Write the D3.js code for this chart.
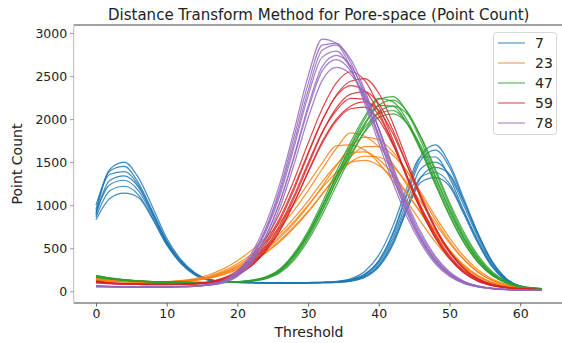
<!DOCTYPE html>
<html>
<head>
<meta charset="utf-8">
<script src="https://d3js.org/d3.v7.min.js"></script>
<style>
  body { margin: 0; background: #fff; }
  text { font-family: "DejaVu Sans", sans-serif; fill: #222; }
</style>
</head>
<body>
<div id="chart"></div>
<script>
// thresholds shared by every line
var thresholds = [0,2,4,6,8,10,12,14,16,18,20,22,24,26,28,30,32,34,36,38,40,42,44,46,48,50,52,54,56,58,60,63];

var groupLabels = ["7", "23", "47", "59", "78"];
var groupColors = ["#1f77b4", "#ff7f0e", "#2ca02c", "#d62728", "#9467bd"];

var xTicks = [0, 10, 20, 30, 40, 50, 60];
var yTicks = [0, 500, 1000, 1500, 2000, 2500, 3000];

var lines7 = [
  [950,1420,1500,1320,980,620,370,215,140,115,108,105,102,100,100,102,105,112,135,200,360,680,1150,1580,1700,1480,1080,680,350,150,60,20],
  [900,1400,1450,1260,930,590,355,208,138,112,106,103,100,100,98,100,104,110,132,195,350,660,1120,1530,1640,1440,1050,660,340,146,58,20],
  [1000,1360,1390,1230,910,580,348,203,135,110,105,102,100,98,98,100,105,115,145,230,420,760,1210,1560,1560,1320,940,590,300,130,52,18],
  [880,1290,1340,1210,900,570,342,199,132,110,104,100,98,97,97,99,102,108,128,185,330,620,1050,1430,1500,1350,1000,630,320,138,55,19],
  [920,1240,1290,1170,880,560,336,195,130,108,103,100,98,96,96,98,100,104,118,160,280,540,950,1330,1440,1360,1040,670,350,150,58,20],
  [860,1170,1220,1120,850,545,328,191,128,107,102,99,97,96,95,97,100,105,122,172,305,580,990,1330,1380,1250,920,580,295,126,50,17],
  [830,1080,1140,1090,840,540,325,189,127,106,101,98,96,95,94,96,99,104,120,168,295,560,950,1270,1320,1220,900,560,285,122,49,17]
];

var lines23 = [
  [145,128,117,111,109,111,120,140,175,235,320,430,570,740,940,1170,1420,1660,1840,1800,1680,1480,1230,960,700,480,300,175,100,56,34,21],
  [135,122,113,108,106,108,115,132,160,210,280,370,480,620,790,990,1220,1460,1680,1790,1760,1620,1390,1110,830,580,375,225,128,72,42,24],
  [150,132,120,113,110,113,124,148,192,260,355,475,620,800,1010,1250,1490,1690,1700,1640,1490,1280,1040,800,570,380,236,138,78,45,29,19],
  [128,118,110,105,103,105,111,125,150,192,255,340,445,575,735,920,1130,1350,1560,1680,1680,1580,1390,1140,870,620,410,250,145,82,47,26],
  [140,125,115,109,107,110,118,136,168,222,300,400,520,670,850,1050,1270,1470,1610,1620,1530,1360,1140,900,660,455,290,172,98,56,34,21],
  [132,120,111,106,104,106,113,128,155,200,265,350,455,590,750,930,1130,1330,1500,1570,1560,1450,1260,1030,790,560,370,225,130,73,43,24],
  [138,124,114,108,106,108,116,133,162,212,285,380,495,640,810,1000,1200,1380,1500,1520,1460,1320,1130,910,690,480,310,185,105,60,36,22]
];

var lines47 = [
  [175,150,132,120,112,108,105,103,102,104,110,125,158,240,410,660,980,1340,1690,2000,2230,2260,2080,1740,1340,950,620,370,200,105,55,30],
  [185,155,135,122,114,110,106,104,103,105,112,130,168,260,440,700,1030,1390,1730,2030,2240,2200,1990,1640,1250,880,570,340,185,98,52,28],
  [165,145,128,118,110,106,103,101,100,102,107,120,150,225,380,620,930,1280,1620,1930,2160,2220,2090,1780,1390,1000,660,400,215,112,58,31],
  [170,148,130,119,111,107,104,102,101,103,109,124,160,248,420,670,990,1340,1670,1950,2160,2150,1950,1620,1240,880,570,340,185,98,52,28],
  [160,140,126,116,109,105,102,100,99,101,106,118,145,215,360,590,890,1230,1560,1860,2080,2150,2060,1790,1420,1030,690,420,230,120,62,32],
  [178,152,133,121,113,108,105,103,102,104,110,126,162,250,425,675,990,1320,1640,1900,2070,2100,1950,1650,1280,920,600,360,195,103,54,29],
  [168,146,129,118,110,106,103,101,100,102,108,122,155,235,400,640,950,1280,1590,1850,2020,2060,1950,1680,1320,960,630,380,205,108,56,30]
];

var lines59 = [
  [115,98,90,86,84,84,86,92,110,155,240,390,610,910,1290,1720,2120,2420,2550,2450,2150,1760,1330,940,620,380,215,118,66,40,27,18],
  [105,92,86,83,81,81,83,88,102,140,210,340,540,820,1180,1590,1980,2280,2440,2470,2300,1950,1520,1100,740,460,265,145,80,48,31,20],
  [120,100,92,88,85,85,87,93,110,150,225,360,570,850,1210,1610,1990,2270,2390,2330,2080,1720,1310,930,620,385,220,120,67,41,27,18],
  [100,90,84,80,78,78,80,85,98,132,195,310,490,740,1080,1460,1840,2130,2290,2320,2180,1870,1470,1070,720,450,260,142,78,47,30,19],
  [112,96,88,84,82,82,84,89,104,140,205,325,510,770,1110,1490,1850,2100,2240,2230,2040,1720,1330,960,640,400,228,125,70,42,28,18],
  [108,94,87,83,80,80,82,87,100,132,192,300,470,710,1030,1390,1740,2000,2150,2200,2100,1830,1460,1080,740,470,275,150,82,49,31,20],
  [98,88,82,79,77,77,79,84,97,128,188,295,465,700,1020,1380,1720,1980,2120,2140,1990,1700,1340,980,660,415,240,132,73,44,29,19]
];

var lines78 = [
  [62,56,52,50,50,52,56,64,82,125,230,440,780,1250,1860,2500,2930,2880,2600,2180,1720,1260,860,550,320,175,92,50,29,19,13,10],
  [58,54,51,49,49,51,54,61,78,116,212,410,730,1190,1790,2410,2860,2880,2660,2270,1800,1330,910,580,340,185,98,54,31,20,14,10],
  [65,58,54,52,51,53,57,65,82,118,212,400,710,1150,1720,2330,2800,2860,2700,2340,1880,1400,960,610,360,200,105,57,33,21,14,10],
  [55,52,50,48,48,50,53,60,76,112,200,385,690,1110,1670,2270,2720,2790,2590,2220,1780,1330,920,590,350,193,102,55,32,20,13,10],
  [60,55,52,50,49,51,54,60,74,106,186,355,640,1040,1570,2150,2610,2740,2620,2310,1890,1430,1000,650,390,215,112,61,35,22,15,10],
  [52,50,48,47,47,49,52,58,72,104,184,350,630,1030,1550,2110,2560,2690,2560,2240,1820,1370,960,620,370,205,108,59,34,21,14,10],
  [58,54,51,49,48,50,53,58,70,98,172,325,590,970,1470,2010,2450,2600,2520,2270,1890,1450,1030,680,410,228,120,64,37,23,15,10]
];

var groups = [lines7, lines23, lines47, lines59, lines78];

var w = 562;
var h = 343;

var xScale = d3.scaleLinear()
  .domain([-3.15, 66.15])
  .range([73.7, 563.7]);

var yScale = d3.scaleLinear()
  .domain([-136, 3093])
  .range([303, 25]);

var svg = d3.select("#chart")
  .append("svg")
  .attr("width", w)
  .attr("height", h);

var line = d3.line()
  .x(function(d, i) { return xScale(thresholds[i]); })
  .y(function(d) { return yScale(d); })
  .curve(d3.curveMonotoneX);

// one <g> per group, drawn in legend order
groups.forEach(function(lines, gi) {
  svg.append("g")
    .selectAll("path")
    .data(lines)
    .enter()
    .append("path")
    .attr("d", line)
    .attr("fill", "none")
    .attr("stroke", groupColors[gi])
    .attr("stroke-width", 1.2)
    .attr("opacity", 0.85);
});

// spines
svg.append("line")
  .attr("x1", 73.7).attr("x2", 562).attr("y1", 25).attr("y2", 25)
  .attr("stroke", "#444").attr("stroke-width", 1);
svg.append("line")
  .attr("x1", 73.7).attr("x2", 562).attr("y1", 303).attr("y2", 303)
  .attr("stroke", "#444").attr("stroke-width", 1);
svg.append("line")
  .attr("x1", 73.7).attr("x2", 73.7).attr("y1", 25).attr("y2", 303)
  .attr("stroke", "#bbb").attr("stroke-width", 1);

//X axis
var xAxis = d3.axisBottom(xScale)
  .tickValues(xTicks)
  .tickFormat(d3.format("d"))
  .tickSize(3.5)
  .tickPadding(3);

var gx = svg.append("g")
  .attr("transform", "translate(0,303)")
  .call(xAxis);
gx.select(".domain").remove();
gx.selectAll("line").attr("stroke", "#666");
gx.selectAll("text")
  .style("font-family", "DejaVu Sans")
  .style("font-size", "12.5px")
  .attr("fill", "#222");

//Y axis
var yAxis = d3.axisLeft(yScale)
  .tickValues(yTicks)
  .tickFormat(d3.format("d"))
  .tickSize(3.5)
  .tickPadding(3);

var gy = svg.append("g")
  .attr("transform", "translate(73.7,0)")
  .call(yAxis);
gy.select(".domain").remove();
gy.selectAll("line").attr("stroke", "#999");
gy.selectAll("text")
  .style("font-family", "DejaVu Sans")
  .style("font-size", "12.5px")
  .attr("fill", "#222");

// title and axis labels
svg.append("text")
  .attr("x", 318.7)
  .attr("y", 20)
  .attr("text-anchor", "middle")
  .style("font-size", "15px")
  .text("Distance Transform Method for Pore-space (Point Count)");

svg.append("text")
  .attr("x", 309)
  .attr("y", 337)
  .attr("text-anchor", "middle")
  .style("font-size", "14px")
  .text("Threshold");

svg.append("text")
  .attr("transform", "translate(22,164) rotate(-90)")
  .attr("text-anchor", "middle")
  .style("font-size", "14px")
  .text("Point Count");

// legend
var legend = svg.append("g");
legend.append("rect")
  .attr("x", 493.5).attr("y", 32.5)
  .attr("width", 63).attr("height", 102)
  .attr("rx", 3)
  .attr("fill", "#fff")
  .attr("fill-opacity", 0.8)
  .attr("stroke", "#d6d6d6");

var items = legend.selectAll(".item")
  .data(groupLabels)
  .enter()
  .append("g")
  .attr("class", "item")
  .attr("transform", function(d, i) { return "translate(0," + (43 + i * 20) + ")"; });

items.append("line")
  .attr("x1", 498).attr("x2", 525)
  .attr("stroke", function(d, i) { return groupColors[i]; })
  .attr("stroke-width", 1.5)
  .attr("opacity", 0.6);

items.append("text")
  .attr("x", 535)
  .attr("dy", "0.35em")
  .style("font-size", "14px")
  .text(function(d) { return d; });
</script>
</body>
</html>
